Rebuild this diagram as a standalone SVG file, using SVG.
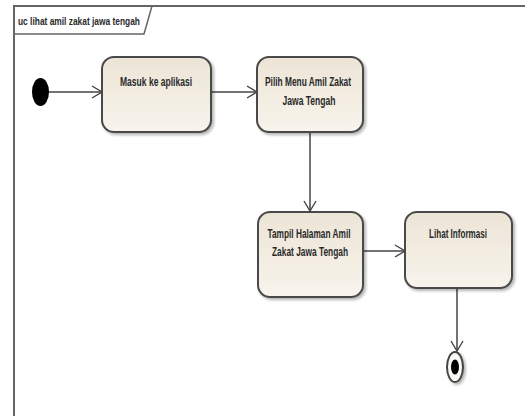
<svg xmlns="http://www.w3.org/2000/svg" width="525" height="416" viewBox="0 0 525 416">
<defs>
<linearGradient id="g" x1="0" y1="0" x2="0" y2="1">
<stop offset="0" stop-color="#ece4d6"/>
<stop offset="1" stop-color="#f8f4ec"/>
</linearGradient>
<filter id="sh" x="-10%" y="-10%" width="130%" height="130%">
<feGaussianBlur in="SourceAlpha" stdDeviation="1.5"/>
<feOffset dx="2" dy="2" result="b"/>
<feComponentTransfer><feFuncA type="linear" slope="0.3"/></feComponentTransfer>
<feMerge><feMergeNode/><feMergeNode in="SourceGraphic"/></feMerge>
</filter>
<marker id="arr" markerWidth="12" markerHeight="14" refX="11" refY="7" orient="auto" markerUnits="userSpaceOnUse">
<path d="M1,1 L11,7 L1,13" fill="none" stroke="#444" stroke-width="1.4"/>
</marker>
</defs>
<style>
.box{fill:url(#g);stroke:#4a4a4a;stroke-width:2;filter:url(#sh)}
.t{font-family:"Liberation Sans Narrow","Liberation Sans",Arial,sans-serif;font-size:12px;font-weight:bold;fill:#2a2a2a;text-anchor:middle}
.c{stroke:#444;stroke-width:1.5;fill:none;marker-end:url(#arr)}
</style>
<rect width="525" height="416" fill="#fff"/>
<g id="frame">
<path d="M14,420 L14,6 L530,6" fill="none" stroke="#666" stroke-width="2"/>
<path d="M14,34 L144,34 L152,6" fill="none" stroke="#666" stroke-width="1.5"/>
<text x="18" y="25" font-family="'Liberation Sans Narrow','Liberation Sans',Arial,sans-serif" font-size="11.5" font-weight="bold" fill="#2a2a2a" textLength="122" lengthAdjust="spacingAndGlyphs">uc lihat amil zakat jawa tengah</text>
</g>
<g id="connectors">
<line class="c" x1="49" y1="92" x2="102" y2="92"/>
<line class="c" x1="211" y1="92" x2="257" y2="92"/>
<line class="c" x1="310" y1="133" x2="310" y2="211"/>
<line class="c" x1="363" y1="251" x2="405" y2="251"/>
<line class="c" x1="457" y1="288" x2="457" y2="351"/>
</g>
<g id="start">
<ellipse cx="40.5" cy="92" rx="8.5" ry="14" fill="#000"/>
</g>
<g id="n1">
<rect class="box" x="102" y="57" width="109" height="75" rx="12"/>
<text class="t" x="156" y="86" textLength="72" lengthAdjust="spacingAndGlyphs">Masuk ke aplikasi</text>
</g>
<g id="n2">
<rect class="box" x="257" y="57" width="106" height="75" rx="12"/>
<text class="t" x="308" y="86" textLength="86" lengthAdjust="spacingAndGlyphs">Pilih Menu Amil Zakat</text>
<text class="t" x="309" y="105" textLength="53" lengthAdjust="spacingAndGlyphs">Jawa Tengah</text>
</g>
<g id="n3">
<rect class="box" x="258" y="212" width="105" height="85" rx="12"/>
<text class="t" x="309" y="238" textLength="83" lengthAdjust="spacingAndGlyphs">Tampil Halaman Amil</text>
<text class="t" x="310" y="256" textLength="76" lengthAdjust="spacingAndGlyphs">Zakat Jawa Tengah</text>
</g>
<g id="n4">
<rect class="box" x="405" y="212" width="107" height="76" rx="12"/>
<text class="t" x="458" y="238" textLength="58" lengthAdjust="spacingAndGlyphs">Lihat Informasi</text>
</g>
<g id="end">
<ellipse cx="455" cy="367" rx="8" ry="15" fill="#fbf9f4" stroke="#444" stroke-width="2" filter="url(#sh)"/>
<ellipse cx="455" cy="367" rx="4" ry="7.5" fill="#000"/>
</g>
</svg>
